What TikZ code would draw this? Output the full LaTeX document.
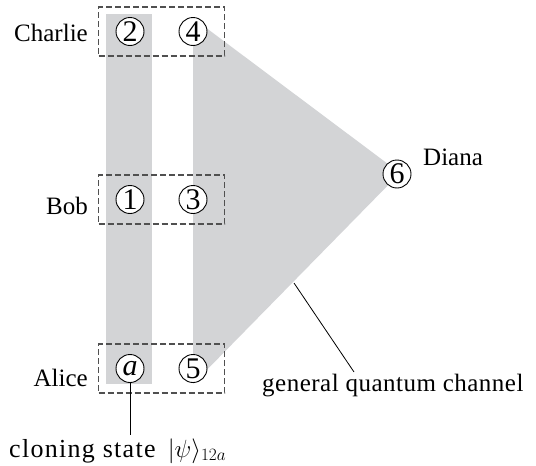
\documentclass[tikz,border=0pt]{standalone}
\usepackage{fontspec}
\setmainfont{Liberation Serif}
\usetikzlibrary{positioning, fit}
\definecolor{bandgray}{RGB}{211,212,214}
\definecolor{dashgray}{RGB}{80,80,80}

\begin{document}
\begin{tikzpicture}[x = 1pt, y = -1pt, node distance = 35pt and 35pt]
        \tikzstyle{qubit} = [circle, minimum size = 28pt, inner sep = 0pt, outer sep = 0pt, line width = 0.9pt, draw = black, fill = white, font = \fontsize{30}{30}\selectfont]
        \tikzstyle{group} = [draw = dashgray, line width = 1.3pt, dash pattern = on 6pt off 3pt, inner xsep = 17.5pt, inner ysep = 10.5pt]
        \tikzstyle{party} = [inner sep = 0pt, font = \fontsize{25}{25}\selectfont]
        \tikzstyle{connect} = [line width = 0.8pt]
        \useasboundingbox (0,0) rectangle (536,466);
        % shaded channels
        \fill[bandgray] (106,14) rectangle (152,384);
        \coordinate (top) at (193,18);
        \coordinate (tip) at (400,173);
        \coordinate (bot) at (193,384);
        \fill[bandgray] (top) -- (tip) -- (bot) -- cycle;
        % qubits
        \node[qubit] (q2) at (130,31.5) {2};
        \node[qubit, right=of q2] (q4) {4};
        \node[qubit, below=140pt of q2] (q1) {1};
        \node[qubit, right=of q1] (q3) {3};
        \node[qubit, below=141pt of q1] (qa) {\textit{a}};
        \node[qubit, right=of qa] (q5) {5};
        \node[qubit] (q6) at (397,174) {6};
        \node[group, fit=(q2) (q4)] (cbox) {};
        \node[group, fit=(q1) (q3)] (bbox) {};
        \node[group, fit=(qa) (q5)] (abox) {};
        % parties
        \node[party, anchor = base east] (charlie) at (88,41) {Charlie};
        \node[party, anchor = base east] (bob) at (88,214) {Bob};
        \node[party, anchor = base east] (alice) at (88,386) {Alice};
        \node[party, anchor = base west] (diana) at (423,165) {Diana};
        % annotations
        \coordinate (clonetop) at (130,435);
        \coordinate (edge) at (294,283);
        \coordinate (foot) at (354,372);
        \draw[connect] (qa) -- (clonetop);
        \draw[connect] (edge) -- (foot);
        \node[party, anchor = base west] (channel) at (262,391) {\addfontfeatures{LetterSpace=2}general quantum channel};
        \node[party, anchor = base west, font = \fontsize{26}{26}\selectfont] (cloning) at (9,457) {\addfontfeatures{LetterSpace=5}cloning state\, $|\psi\rangle_{12a}$};
      \end{tikzpicture}
\end{document}
